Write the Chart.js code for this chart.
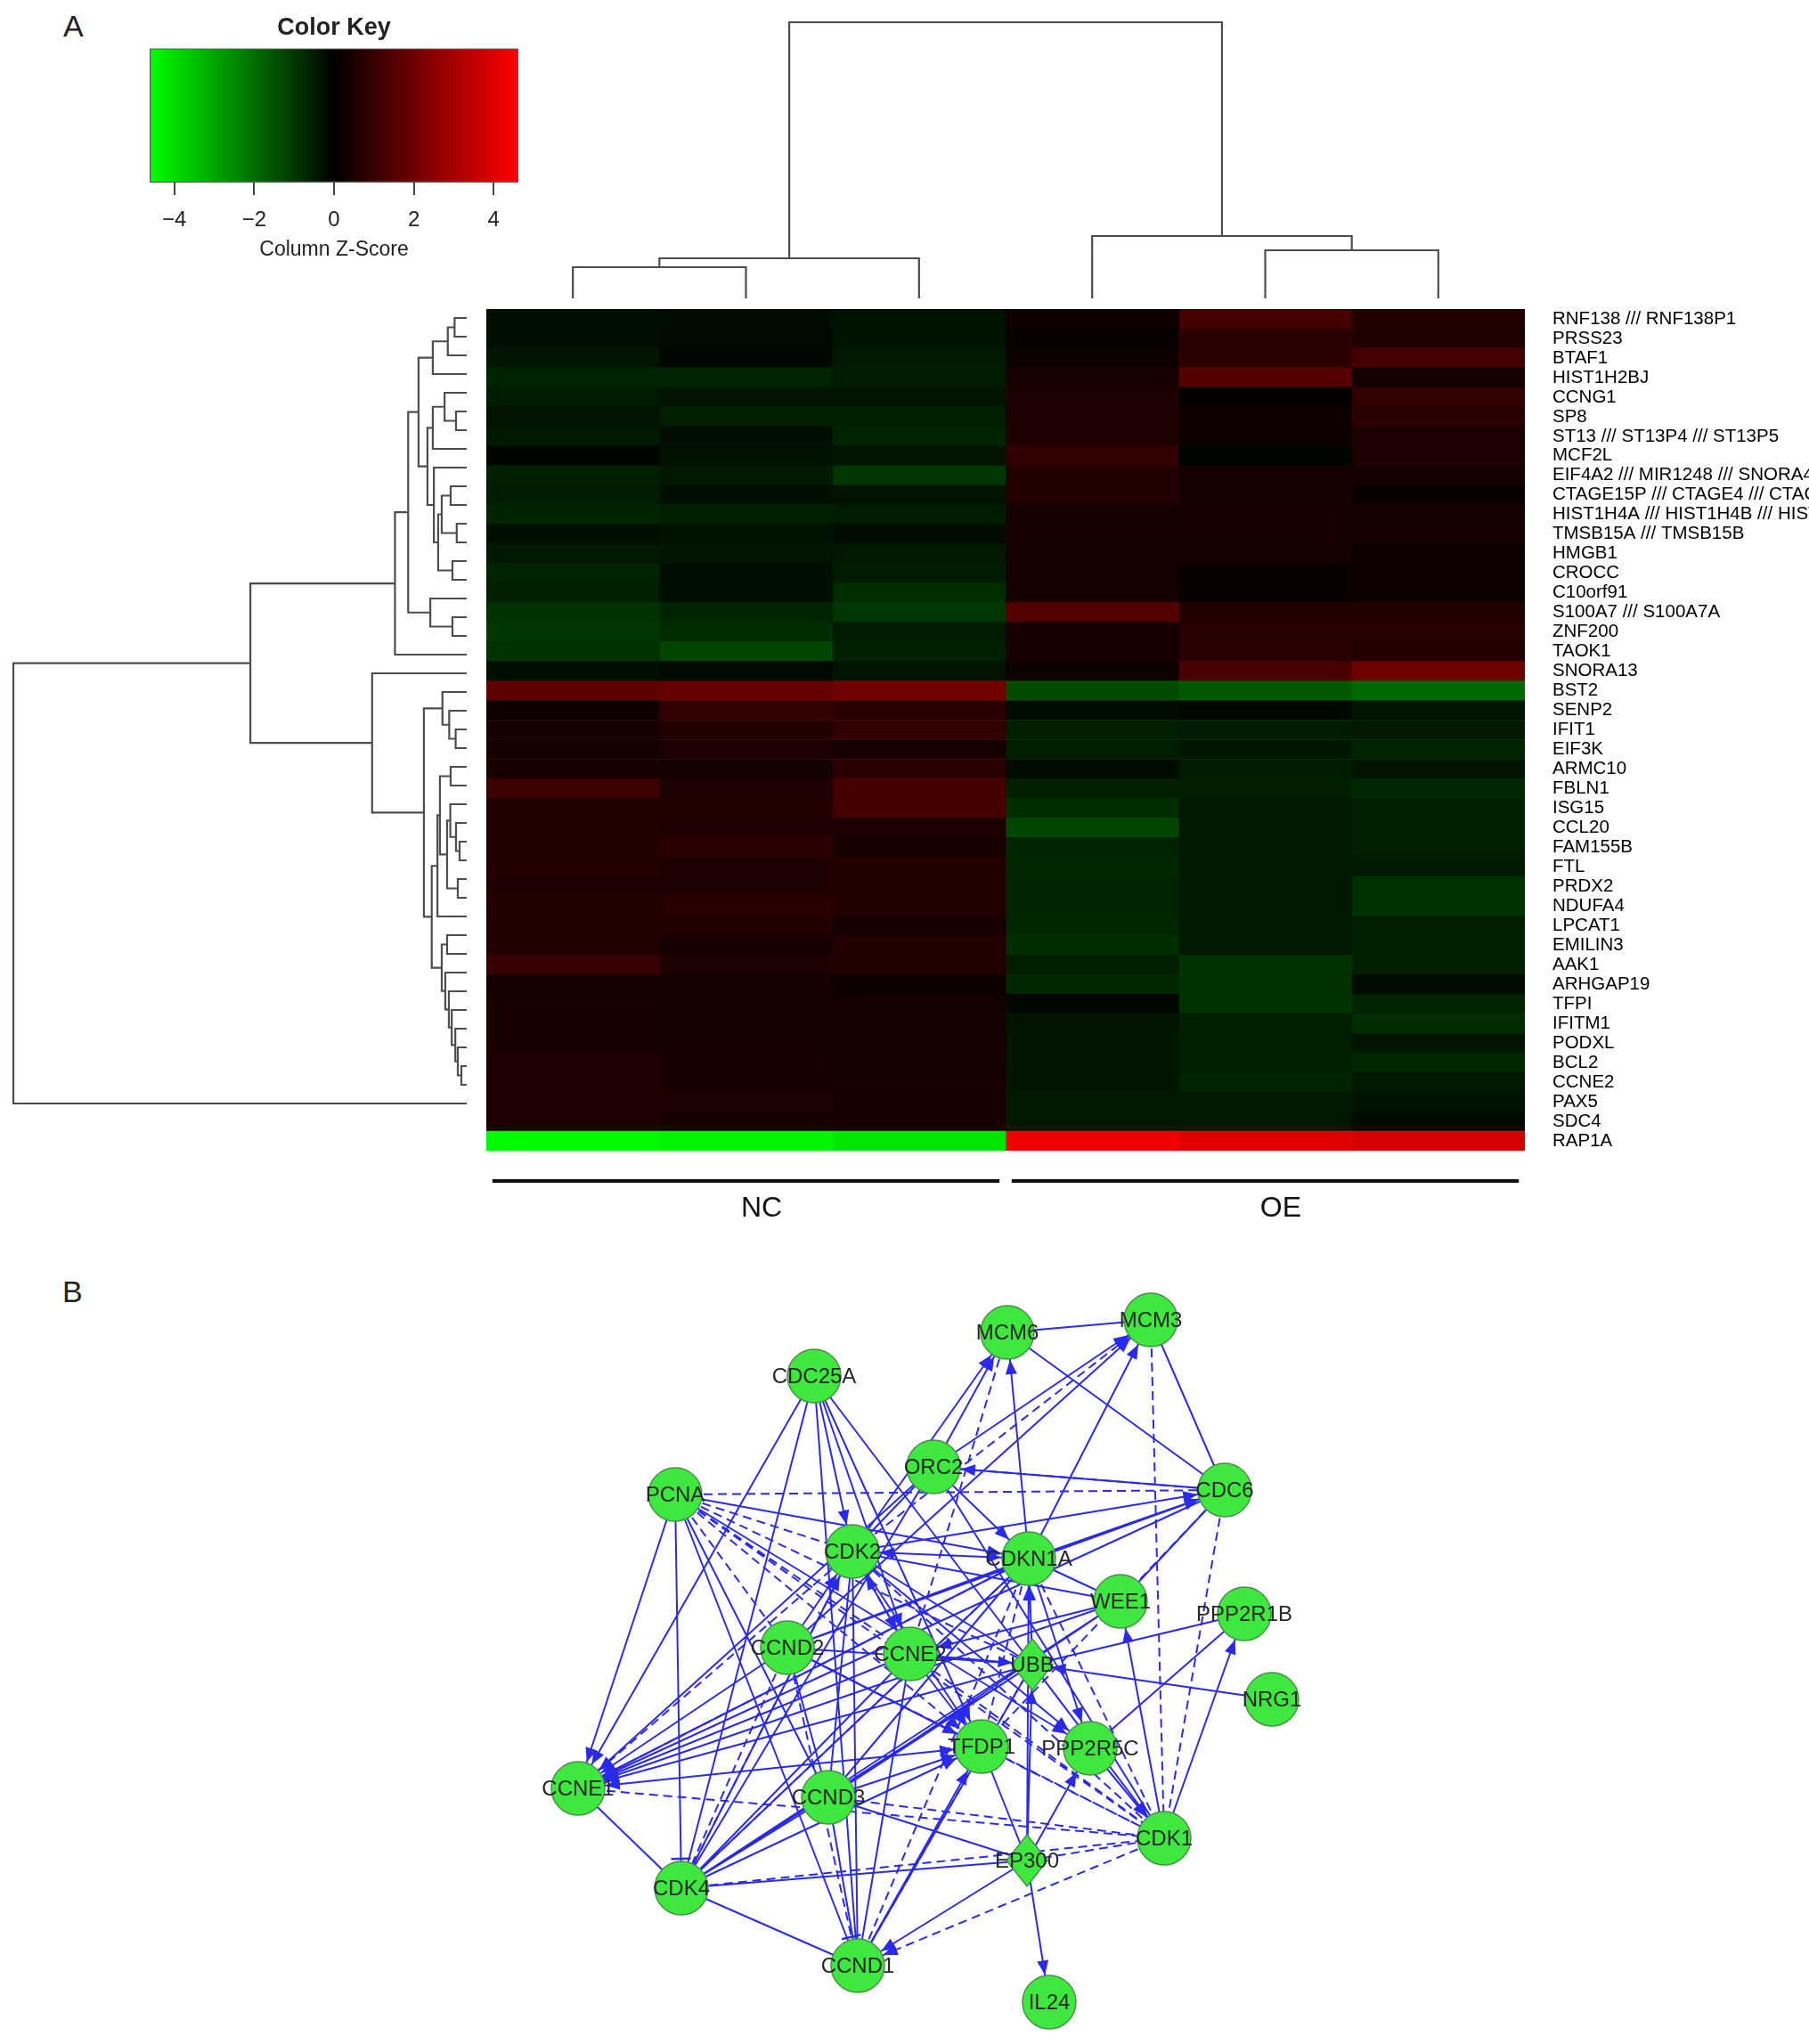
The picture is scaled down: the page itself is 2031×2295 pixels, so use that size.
<!DOCTYPE html>
<html><head><meta charset="utf-8">
<script src="https://cdn.jsdelivr.net/npm/chart.js@4.4.1/dist/chart.umd.min.js"></script>
<style>
html,body{margin:0;padding:0;background:#fff;width:2031px;height:2295px;overflow:hidden;position:relative;font-family:"Liberation Sans",Arial,Helvetica,sans-serif;}
.panel{position:absolute;font-size:34px;color:#222;line-height:1;}
canvas{position:absolute;}
</style></head><body>
<div class="panel" style="left:71px;top:12px;">A</div>
<div class="panel" style="left:70px;top:1433px;">B</div>
<canvas id="cKey" width="560" height="300" style="left:100px;top:0px"></canvas>
<canvas id="cColD" width="1166" height="340" style="left:546px;top:10px"></canvas>
<canvas id="cRowD" width="540" height="910" style="left:0px;top:340px"></canvas>
<canvas id="cHeat" width="1485" height="945" style="left:546px;top:347px"></canvas>
<canvas id="cGrp" width="1166" height="90" style="left:546px;top:1316px"></canvas>
<canvas id="cNet" width="900" height="845" style="left:600px;top:1450px"></canvas>
<script>
// ---------------- DATA ----------------
const keyMin = -4.62, keyMax = 4.62;
const keyTicks = [-4, -2, 0, 2, 4];
const keyStops = [0, 0.5, 1];
const keyColors = ['#00ff00', '#000000', '#ff0000'];

const genes = ['RNF138 /// RNF138P1','PRSS23','BTAF1','HIST1H2BJ','CCNG1','SP8','ST13 /// ST13P4 /// ST13P5','MCF2L',
 'EIF4A2 /// MIR1248 /// SNORA4 /// SNORA63 /// SNORA81','CTAGE15P /// CTAGE4 /// CTAGE9','HIST1H4A /// HIST1H4B /// HIST1H4C',
 'TMSB15A /// TMSB15B','HMGB1','CROCC','C10orf91','S100A7 /// S100A7A','ZNF200','TAOK1','SNORA13','BST2','SENP2','IFIT1','EIF3K',
 'ARMC10','FBLN1','ISG15','CCL20','FAM155B','FTL','PRDX2','NDUFA4','LPCAT1','EMILIN3','AAK1','ARHGAP19','TFPI','IFITM1','PODXL',
 'BCL2','CCNE2','PAX5','SDC4','RAP1A'];

const nc1 = [-0.27,-0.27,-0.40,-0.63,-0.51,-0.36,-0.45,-0.09,-0.54,-0.51,-0.63,-0.27,-0.45,-0.63,-0.54,-0.91,-1.00,-0.91,-0.27,
 1.72,0.27,0.36,0.36,0.45,1.09,0.63,0.63,0.63,0.63,0.54,0.63,0.63,0.63,1.00,0.36,0.45,0.45,0.45,0.54,0.54,0.54,0.54,-4.53];
const nc2 = [-0.22,-0.18,-0.14,-0.63,-0.36,-0.54,-0.27,-0.33,-0.45,-0.27,-0.54,-0.33,-0.36,-0.27,-0.27,-0.63,-0.82,-1.27,-0.18,
 1.81,0.91,0.63,0.54,0.36,0.54,0.63,0.54,0.82,0.54,0.54,0.72,0.63,0.45,0.54,0.36,0.36,0.36,0.36,0.45,0.45,0.54,0.45,-4.44];
const nc3 = [-0.33,-0.33,-0.45,-0.51,-0.36,-0.54,-0.63,-0.36,-1.00,-0.36,-0.51,-0.22,-0.45,-0.51,-0.82,-1.00,-0.51,-0.54,-0.36,
 2.08,0.82,0.91,0.36,0.82,1.27,1.27,0.54,0.45,0.63,0.63,0.63,0.45,0.63,0.63,0.22,0.36,0.36,0.36,0.36,0.45,0.45,0.45,-4.17];
const oe1 = [0.22,0.18,0.27,0.45,0.54,0.54,0.54,0.91,0.63,0.63,0.36,0.45,0.36,0.36,0.40,1.54,0.45,0.45,0.27,
 -1.36,-0.22,-0.54,-0.54,-0.22,-0.54,-0.82,-1.27,-0.63,-0.72,-0.63,-0.63,-0.72,-0.82,-0.54,-0.72,-0.14,-0.36,-0.40,-0.40,-0.40,-0.45,-0.45,4.35];
const oe2 = [1.27,0.82,0.82,1.54,0.09,0.27,0.22,-0.09,0.36,0.36,0.45,0.45,0.36,0.18,0.18,0.63,0.72,0.72,1.36,
 -1.63,-0.14,-0.51,-0.40,-0.51,-0.54,-0.45,-0.45,-0.45,-0.45,-0.45,-0.45,-0.45,-0.45,-0.91,-0.91,-0.91,-0.54,-0.54,-0.54,-0.63,-0.45,-0.45,4.08];
const oe3 = [0.63,0.54,1.27,0.36,0.91,0.82,0.54,0.54,0.36,0.18,0.36,0.36,0.22,0.22,0.22,0.63,0.72,0.63,1.99,
 -1.90,-0.40,-0.45,-0.63,-0.36,-0.72,-0.54,-0.54,-0.54,-0.45,-0.91,-0.91,-0.54,-0.54,-0.54,-0.22,-0.63,-0.82,-0.36,-0.72,-0.45,-0.33,-0.22,3.90];

// row dendrogram (hclust style: negative = leaf, positive = earlier merge)
const rowMergeL = [-1,1,2,-6,-5,5,-10,-12,7,-14,9,-9,6,3,-17,-16,14,17,-23,-22,-21,-25,-29,-28,-27,-31,25,22,28,-34,-41,-40,-39,-38,-37,-36,30,29,21,-20,18,41];
const rowMergeR = [-2,-3,-4,-7,4,-8,-11,-13,8,-15,10,11,12,13,-18,15,16,-19,-24,19,20,-26,-30,23,24,-32,26,27,-33,-35,-42,31,32,33,34,35,36,37,38,39,40,-43];
const rowMergeH = [0.34,0.53,0.95,0.30,0.62,0.95,0.45,0.28,0.70,0.40,0.80,0.92,1.10,1.35,0.40,1.02,1.64,2.01,0.31,0.49,0.68,0.45,0.20,0.30,0.46,0.25,0.55,0.75,0.82,0.55,0.15,0.25,0.32,0.42,0.50,0.60,0.70,0.98,1.20,2.65,6.06,12.7];
// column dendrogram
const colMergeL = [-1,-5,1,-4,3];
const colMergeR = [-2,-6,-3,2,4];
const colMergeH = [3.5,5.4,4.5,7.0,31.0];

const groupNames = ['NC', 'OE'];
const groupStart = [0, 3];
const groupEnd = [3, 6];

// network
const nodeNames = ['MCM6','MCM3','CDC25A','ORC2','PCNA','CDC6','CDK2','CDKN1A','WEE1','PPP2R1B','CCND2','CCNE2','UBB','NRG1','TFDP1','PPP2R5C','CCNE1','CCND3','CDK1','EP300','CDK4','CCND1','IL24'];
const nodeX = [53.1,69.2,31.4,44.8,15.8,77.5,35.7,55.5,65.8,79.7,28.4,42.2,55.9,82.8,50.2,62.4,4.9,33.0,70.7,55.3,16.5,36.3,57.8];
const nodeY = [4.6,3.2,9.5,19.7,22.8,22.3,29.2,30.0,34.8,36.2,40.0,40.7,41.9,45.8,51.1,51.3,55.8,56.8,61.4,63.9,67.0,75.7,79.8];
const nodeShape = ['o','o','o','o','o','o','o','o','o','o','o','o','d','o','o','o','o','o','o','d','o','o','o'];

const edgeFrom = ['MCM6','MCM6','MCM3','MCM3','CDC6','ORC2','CDK2','CCNE2','CDKN1A','CDKN1A','ORC2','CDK2','CCND2','ORC2','PCNA','CDC6','CDK2','CCND2','CDKN1A','CDC6','CDC6',
 'CDC25A','CDC25A','CDC25A','CDC25A','CDC25A','CDC25A','CDC25A','PCNA','PCNA','PCNA','PCNA','PCNA','PCNA','PCNA','PCNA','PCNA','PCNA','PCNA',
 'ORC2','ORC2','ORC2','ORC2','CDKN1A','CDK2','CDK2','CCNE2','CDK2','CDK2','CDKN1A','CDK2','CDK2','CDK2','CDK2','CDK2','CDK2','CCND2','CDK4',
 'CDKN1A','CDKN1A','CDKN1A','CDKN1A','CDKN1A','UBB','EP300','CDKN1A','CDKN1A','CDK1','WEE1','WEE1','WEE1','PPP2R1B','PPP2R1B','CDK1','NRG1',
 'EP300','UBB','UBB','CCNE2','CCND2','UBB','UBB','CCND3','CCNE1','CDK4','CCND1','TFDP1','TFDP1','CCNE2','EP300','PPP2R5C','CCNE2','CCNE1',
 'CCNE1','CCND3','CCND2','CCND3','CCND3','CCND3','CDK1','CDK1','EP300','EP300','CDK4','CDK4','CDK4','CCND2','CCND2','CCND2','CCND2','CCNE2',
 'CCNE2','CCND3','TFDP1','CCND1','CCND1','CCNE2','CDK4','CDK4','CCND3','PCNA','CDKN1A','CCND2','CDC6','ORC2'];
const edgeTo = ['MCM3','CDC6','CDC6','CDK1','CDK1','MCM6','MCM6','MCM6','MCM6','MCM3','MCM3','MCM3','MCM3','CDC6','CDC6','ORC2','CDC6','CDC6','CDC6','TFDP1','WEE1',
 'CDK2','CCNE1','CDK4','CCNE2','TFDP1','CDK1','CCND1','CDKN1A','CDK2','CCNE2','UBB','TFDP1','CDK1','CCNE1','CDK4','CCND3','CCND1','PPP2R5C',
 'CDK2','CDKN1A','CDK1','CCNE1','CDK2','CDKN1A','CCNE2','CDK2','TFDP1','CCNE1','CCNE1','CDK4','CCND1','UBB','CDK1','WEE1','PPP2R5C','CDK2','CDK2',
 'WEE1','CCNE1','CCND2','CCND3','CDK4','CDKN1A','CDKN1A','CDK1','PPP2R5C','WEE1','CCNE2','CCNE1','CCND3','UBB','PPP2R5C','PPP2R1B','UBB',
 'UBB','CDK1','CCND1','UBB','UBB','CCNE1','CDK4','TFDP1','TFDP1','TFDP1','TFDP1','EP300','CDK1','TFDP1','PPP2R5C','CDK1','CDK1','CDK1',
 'CDK4','CDK4','CDK4','CDK1','EP300','CCND1','EP300','CCND1','CCND1','IL24','EP300','CDK1','CCND1','CCNE1','CCND1','TFDP1','CDK1','CCNE1',
 'CDK4','CDK2','CCNE1','CDKN1A','UBB','CCND1','WEE1','CDKN1A','UBB','CCND2','TFDP1','CCND3','CCNE1','CDK4'];
const edgeDashed = [0,0,0,1,1,0,0,1,0,0,0,1,0,0,1,1,0,0,0,1,0,
 0,0,0,0,0,0,0,0,1,1,1,1,1,0,0,0,0,0,
 0,0,0,0,0,0,0,1,0,1,1,0,0,0,1,0,0,0,1,
 0,0,0,0,0,0,0,1,0,0,0,0,0,0,0,0,0,
 0,0,1,0,0,0,0,0,0,0,0,0,1,0,0,0,1,1,
 0,0,1,1,0,0,1,1,0,0,0,1,0,0,1,0,1,0,
 0,0,0,1,0,0,0,1,0,1,1,0,0,0];
const edgeHead = ['','','','','','a','a','','a','a','a','a','a','','','a','a','a','a','','',
 'a','a','','a','a','','','a','','','','a','','a','t','','','a',
 '','a','','','a','a','a','a','a','a','a','','','','','','a','a','a',
 '','a','','','','a','a','','a','a','a','a','','','','a','a',
 'a','a','','a','','a','','a','a','a','a','','','a','a','a','','',
 '','','','','','','','a','a','a','','','','a','t','a','','a',
 '','','a','','','','','','','','','','a',''];

// ---------------- RENDER ----------------
const FONT = '"Liberation Sans", Arial, Helvetica, sans-serif';
Chart.defaults.font.family = FONT;
Chart.defaults.color = '#222';
const base = {responsive:false, animation:false, events:[], devicePixelRatio:1};
const noPlug = {legend:{display:false}, tooltip:{enabled:false}};

function zColor(z){
  const f = Math.min(1, Math.abs(z)/keyMax);
  const v = Math.round(255*f);
  return z < 0 ? `rgb(0,${v},0)` : `rgb(${v},0,0)`;
}
function dendro(L, R, H, leafPos, horiz){
  const pos = [], hgt = [], pts = [];
  const P = k => k < 0 ? leafPos(-k-1) : pos[k-1];
  const Hh = k => k < 0 ? 0 : hgt[k-1];
  const pt = (h, p) => horiz ? {x:h, y:p} : {x:p, y:h};
  for (let i = 0; i < L.length; i++){
    const pa = P(L[i]), pb = P(R[i]), h = H[i];
    pts.push(pt(Hh(L[i]), pa), pt(h, pa), pt(h, pb), pt(Hh(R[i]), pb), {x:null, y:null});
    pos.push((pa+pb)/2); hgt.push(h);
  }
  return pts;
}
const lay = p => ({padding:p, autoPadding:false});

// Color key
new Chart(document.getElementById('cKey'), {
  type:'bar',
  data:{labels:['key'], datasets:[{
    data:[[keyMin, keyMax]],
    backgroundColor: c => {
      const ch = c.chart; if (!ch.chartArea) return '#000';
      const xs = ch.scales.x;
      const g = ch.ctx.createLinearGradient(xs.getPixelForValue(keyMin), 0, xs.getPixelForValue(keyMax), 0);
      keyStops.forEach((s, i) => g.addColorStop(s, keyColors[i]));
      return g;
    },
    borderColor:'#555', borderWidth:1.5, borderSkipped:false, barPercentage:1, categoryPercentage:1
  }]},
  options:{...base, indexAxis:'y',
    layout:lay({left:68, right:78, top:0, bottom:0}),
    plugins:{...noPlug, title:{display:true, text:'Color Key', color:'#222', font:{size:27, weight:'bold'}, padding:{top:15, bottom:7}}},
    scales:{
      x:{type:'linear', min:keyMin, max:keyMax,
        afterBuildTicks: s => { s.ticks = keyTicks.map(v => ({value:v})); },
        ticks:{callback: v => v < 0 ? '\u2212' + Math.abs(v) : String(v), font:{size:24}, color:'#222', padding:14, maxRotation:0},
        grid:{drawOnChartArea:false, drawTicks:true, tickLength:14, color:'#444', lineWidth:2},
        border:{display:false},
        title:{display:true, text:'Column Z-Score', font:{size:23}, color:'#222', padding:{top:0, bottom:6}},
        afterFit: s => { s.height = 95; s.paddingLeft = 0; s.paddingRight = 0; }
      },
      y:{display:false}
    }
  }
});

// Column dendrogram
new Chart(document.getElementById('cColD'), {
  type:'scatter',
  data:{datasets:[{data: dendro(colMergeL, colMergeR, colMergeH, i => i + 0.5, false),
    showLine:true, borderColor:'#4d4d4d', borderWidth:2.2, pointRadius:0, spanGaps:false, clip:false}]},
  options:{...base, layout:lay({left:0, right:0, top:15, bottom:15}), plugins:noPlug,
    scales:{x:{type:'linear', min:0, max:6, display:false}, y:{type:'linear', min:0, max:31, display:false}}}
});

// Row dendrogram
new Chart(document.getElementById('cRowD'), {
  type:'scatter',
  data:{datasets:[{data: dendro(rowMergeL, rowMergeR, rowMergeH, i => i, true),
    showLine:true, borderColor:'#4d4d4d', borderWidth:2.2, pointRadius:0, spanGaps:false, clip:false}]},
  options:{...base, layout:lay({left:15, right:16, top:17, bottom:11}), plugins:noPlug,
    scales:{x:{type:'linear', min:0, max:12.7, reverse:true, display:false},
            y:{type:'linear', min:0, max:42, reverse:true, display:false}}}
});

// Heatmap
const columns = [nc1, nc2, nc3, oe1, oe2, oe3];
new Chart(document.getElementById('cHeat'), {
  type:'bar',
  data:{labels:genes, datasets: columns.map((vals, c) => ({
    data: vals.map(() => [c, c + 1]),
    backgroundColor: vals.map(zColor),
    borderWidth:0, barPercentage:1, categoryPercentage:1, grouped:false
  }))},
  options:{...base, indexAxis:'y', layout:lay(0), plugins:noPlug,
    scales:{
      x:{type:'linear', min:0, max:6, display:false},
      y:{type:'category', position:'right', grid:{display:false, drawTicks:false}, border:{display:false},
         ticks:{font:{size:20.5}, color:'#000', padding:31, autoSkip:false},
         afterFit: s => { s.width = 319; s.paddingTop = 0; s.paddingBottom = 0; }}
    }
  }
});

// Group bars
new Chart(document.getElementById('cGrp'), {
  type:'scatter',
  data:{datasets: groupNames.map((g, i) => ({
    data:[{x:groupStart[i] + 0.035, y:1}, {x:groupEnd[i] - 0.035, y:1}],
    showLine:true, borderColor:'#111', borderWidth:4, pointRadius:0, clip:false
  }))},
  options:{...base, layout:lay({left:0, right:0, top:10, bottom:0}), plugins:noPlug,
    scales:{
      x:{type:'linear', min:0, max:6,
         afterBuildTicks: s => { s.ticks = groupNames.map((g, i) => ({value:(groupStart[i] + groupEnd[i]) / 2 + 0.09})); },
         ticks:{callback:(v, i) => groupNames[i], font:{size:32}, color:'#111', padding:8, maxRotation:0},
         grid:{display:false, drawTicks:false}, border:{display:false},
         afterFit: s => { s.height = 76; s.paddingLeft = 0; s.paddingRight = 0; }},
      y:{type:'linear', min:0, max:1, display:false}
    }
  }
});

// Network
const EDGE = '#2a2aee';
const NODE_FILL = '#3fe83f', NODE_LINE = '#4a8f4a';
const diamond = document.createElement('canvas');
diamond.width = 50; diamond.height = 60;
(() => { const d = diamond.getContext('2d'); d.beginPath(); d.moveTo(25,1); d.lineTo(48,30); d.lineTo(25,59); d.lineTo(2,30); d.closePath();
  d.fillStyle = NODE_FILL; d.fill(); d.lineWidth = 1.5; d.strokeStyle = NODE_LINE; d.stroke(); })();

function edgeSet(dashed){
  const pts = [], idx = [];
  edgeFrom.forEach((f, i) => {
    if (edgeDashed[i] !== dashed) return;
    const a = nodeNames.indexOf(f), b = nodeNames.indexOf(edgeTo[i]);
    pts.push({x:nodeX[a], y:nodeY[a]}, {x:nodeX[b], y:nodeY[b]}, {x:null, y:null});
    idx.push(i);
  });
  return {pts, idx};
}
const solid = edgeSet(0), dashed = edgeSet(1);

const arrowPlugin = {
  id:'arrows',
  afterDatasetDraw(chart, args){
    const ds = chart.data.datasets[args.index];
    if (!ds.edgeIdx) return;
    const xs = chart.scales.x, ys = chart.scales.y, ctx = chart.ctx;
    ctx.save(); ctx.fillStyle = EDGE; ctx.strokeStyle = EDGE; ctx.setLineDash([]);
    ds.edgeIdx.forEach(i => {
      const head = edgeHead[i]; if (!head) return;
      const a = nodeNames.indexOf(edgeFrom[i]), b = nodeNames.indexOf(edgeTo[i]);
      const x0 = xs.getPixelForValue(nodeX[a]), y0 = ys.getPixelForValue(nodeY[a]);
      const x1 = xs.getPixelForValue(nodeX[b]), y1 = ys.getPixelForValue(nodeY[b]);
      const dx = x1 - x0, dy = y1 - y0, len = Math.hypot(dx, dy), ux = dx/len, uy = dy/len;
      const t = nodeShape[b] === 'd' ? 1/(Math.abs(ux)/24 + Math.abs(uy)/29) : 31;
      const tx = x1 - ux*t, ty = y1 - uy*t;
      if (head === 'a'){
        const L = 16, W = 6.5, bx = tx - ux*L, by = ty - uy*L;
        ctx.beginPath(); ctx.moveTo(tx, ty); ctx.lineTo(bx - uy*W, by + ux*W); ctx.lineTo(bx + uy*W, by - ux*W); ctx.closePath(); ctx.fill();
      } else if (head === 't'){
        const W = 11, px = tx - ux*2, py = ty - uy*2;
        ctx.lineWidth = 2.5; ctx.beginPath(); ctx.moveTo(px - uy*W, py + ux*W); ctx.lineTo(px + uy*W, py - ux*W); ctx.stroke();
      }
    });
    ctx.restore();
  }
};
const labelPlugin = {
  id:'nodeLabels',
  afterDatasetsDraw(chart){
    const meta = chart.getDatasetMeta(0), ctx = chart.ctx;
    ctx.save(); ctx.font = '24px ' + FONT; ctx.fillStyle = '#262626'; ctx.textAlign = 'center'; ctx.textBaseline = 'middle';
    meta.data.forEach((p, i) => ctx.fillText(nodeNames[i], p.x, p.y + 1));
    ctx.restore();
  }
};

new Chart(document.getElementById('cNet'), {
  type:'scatter',
  data:{datasets:[
    {data: nodeNames.map((n, i) => ({x:nodeX[i], y:nodeY[i]})),
     pointStyle: nodeShape.map(s => s === 'd' ? diamond : 'circle'),
     pointRadius:30, backgroundColor:NODE_FILL, borderColor:NODE_LINE, borderWidth:1.5, order:0, clip:false},
    {data: solid.pts, edgeIdx: solid.idx, showLine:true, spanGaps:false, borderColor:EDGE, borderWidth:2, pointRadius:0, order:1, clip:false},
    {data: dashed.pts, edgeIdx: dashed.idx, showLine:true, spanGaps:false, borderColor:EDGE, borderWidth:2, borderDash:[10,6], pointRadius:0, order:2, clip:false}
  ]},
  options:{...base, layout:lay(0), plugins:noPlug,
    scales:{x:{type:'linear', min:0, max:90, display:false}, y:{type:'linear', min:0, max:84.5, reverse:true, display:false}}},
  plugins:[arrowPlugin, labelPlugin]
});
</script>
</body></html>
